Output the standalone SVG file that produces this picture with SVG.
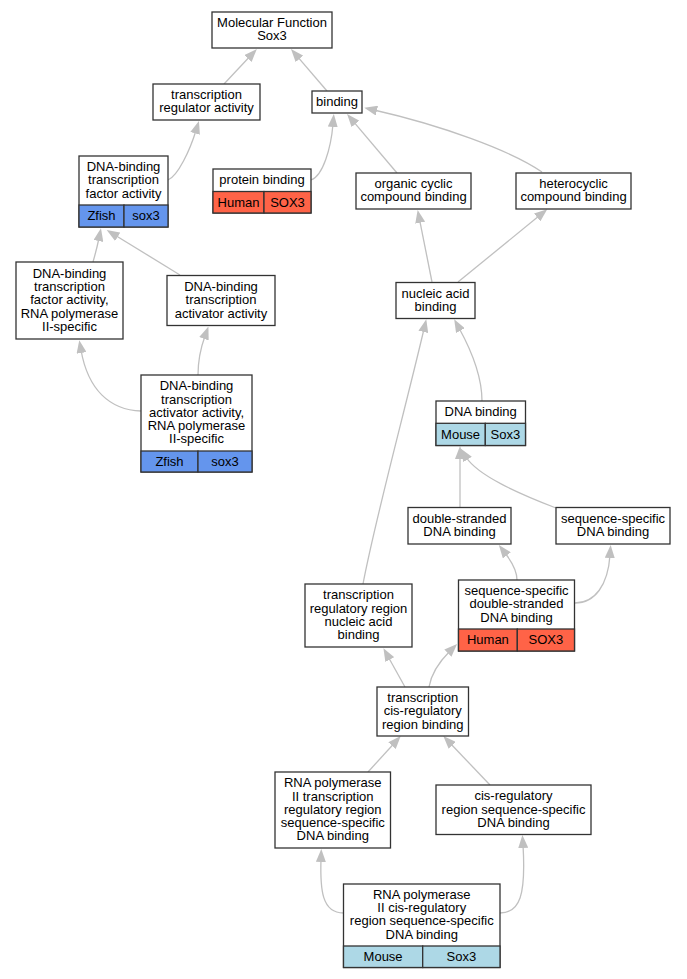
<svg xmlns="http://www.w3.org/2000/svg" width="687" height="979" viewBox="0 0 687 979">
<style>
.box{fill:#fff;stroke:#333;stroke-width:1.3}
.zf{fill:#6495ed;stroke:#333;stroke-width:1.3}
.hu{fill:#ff6347;stroke:#333;stroke-width:1.3}
.mo{fill:#add8e6;stroke:#333;stroke-width:1.3}
.e{fill:none;stroke:#c0c0c0;stroke-width:1.3;marker-end:url(#ah)}
text{font-family:"Liberation Sans",Arial,sans-serif;font-size:13px;fill:#000;text-anchor:middle}
</style>
<defs>
<marker id="ah" viewBox="0 0 13 10" refX="3" refY="5" markerWidth="13" markerHeight="10" markerUnits="userSpaceOnUse" orient="auto">
<path d="M0,0 L13,5 L0,10 z" fill="#c0c0c0"/>
</marker>
</defs>
<rect width="687" height="979" fill="#fff"/>
<g id="edges">
<path class="e" d="M224,84 L250,56.3"/>
<path class="e" d="M327,91 L297.5,56.6"/>
<path class="e" d="M168,180 C178,176 190,150 196,130.5"/>
<path class="e" d="M311,180 C323,176 331,148 333,124"/>
<path class="e" d="M397,173 L353.5,121.6"/>
<path class="e" d="M542,172 C510,150 440,125 374,110"/>
<path class="e" d="M93,262 C95,255 97,248 99,238"/>
<path class="e" d="M180,275 L115.2,235.2"/>
<path class="e" d="M141,411 C110,410 88,390 81,350"/>
<path class="e" d="M198,375 C198,360 201,347 205,336"/>
<path class="e" d="M432,282 L419.6,219.8"/>
<path class="e" d="M458,282 L539.5,215.6"/>
<path class="e" d="M482,401 C482,375 470,348 459,328"/>
<path class="e" d="M363,584 C375,520 405,410 424,329"/>
<path class="e" d="M460,507.5 L460,456"/>
<path class="e" d="M556,508 C520,494 478,476 466,457"/>
<path class="e" d="M517,580 C517,570 512,562 505,553"/>
<path class="e" d="M575,603 C595,603 608,585 610,555"/>
<path class="e" d="M405,687 L388.3,657"/>
<path class="e" d="M429,687 C431,675 438,663 450,651"/>
<path class="e" d="M368,772 L394,743.5"/>
<path class="e" d="M490,785 L450.2,743.2"/>
<path class="e" d="M343.5,913 C322,913 320,890 321,859"/>
<path class="e" d="M500,913 C520,913 526,895 523,845"/>
</g>
<g id="n1"><rect class="box" x="212" y="12" width="120" height="36"/><text x="272" y="27.15">Molecular Function</text><text x="272" y="40.45">Sox3</text></g>
<g id="n2"><rect class="box" x="153" y="84" width="107" height="36"/><text x="206.5" y="99.15">transcription</text><text x="206.5" y="112.45">regulator activity</text></g>
<g id="n3"><rect class="box" x="312" y="91" width="50" height="22"/><text x="337" y="105.8">binding</text></g>
<g id="n4"><rect class="box" x="79" y="156" width="89" height="71"/><rect class="zf" x="79" y="205" width="45" height="22"/><rect class="zf" x="124" y="205" width="44" height="22"/><text x="123.5" y="171">DNA-binding</text><text x="123.5" y="184.3">transcription</text><text x="123.5" y="197.6">factor activity</text><text x="101.5" y="220.3">Zfish</text><text x="146" y="220.3">sox3</text></g>
<g id="n5"><rect class="box" x="213" y="169" width="98" height="44"/><rect class="hu" x="213" y="191.5" width="51" height="21.5"/><rect class="hu" x="264" y="191.5" width="47" height="21.5"/><text x="262" y="184.3">protein binding</text><text x="238.5" y="206.5">Human</text><text x="287.5" y="206.5">SOX3</text></g>
<g id="n6"><rect class="box" x="356" y="173" width="115" height="36"/><text x="413.5" y="188.15">organic cyclic</text><text x="413.5" y="201.45">compound binding</text></g>
<g id="n7"><rect class="box" x="516" y="173" width="115" height="36"/><text x="573.5" y="188.15">heterocyclic</text><text x="573.5" y="201.45">compound binding</text></g>
<g id="n8"><rect class="box" x="16" y="262" width="107" height="77"/><text x="69.5" y="277.7">DNA-binding</text><text x="69.5" y="291">transcription</text><text x="69.5" y="304.3">factor activity,</text><text x="69.5" y="317.6">RNA polymerase</text><text x="69.5" y="330.9">II-specific</text></g>
<g id="n9"><rect class="box" x="167" y="275.5" width="108" height="50"/><text x="221" y="291">DNA-binding</text><text x="221" y="304.3">transcription</text><text x="221" y="317.6">activator activity</text></g>
<g id="n10"><rect class="box" x="396" y="282.5" width="79" height="36"/><text x="435.5" y="297.65">nucleic acid</text><text x="435.5" y="310.95">binding</text></g>
<g id="n11"><rect class="box" x="141" y="375" width="111" height="97"/><rect class="zf" x="141" y="451" width="57" height="21"/><rect class="zf" x="198" y="451" width="54" height="21"/><text x="196.5" y="390.2">DNA-binding</text><text x="196.5" y="403.5">transcription</text><text x="196.5" y="416.8">activator activity,</text><text x="196.5" y="430.1">RNA polymerase</text><text x="196.5" y="443.4">II-specific</text><text x="169.5" y="465.8">Zfish</text><text x="225" y="465.8">sox3</text></g>
<g id="n12"><rect class="box" x="436" y="401" width="89.5" height="44.5"/><rect class="mo" x="436" y="423.3" width="49.3" height="22.2"/><rect class="mo" x="485.3" y="423.3" width="40.2" height="22.2"/><text x="480.7" y="416">DNA binding</text><text x="460.6" y="438.6">Mouse</text><text x="505.4" y="438.6">Sox3</text></g>
<g id="n13"><rect class="box" x="408" y="507.5" width="103" height="36.5"/><text x="459.5" y="522.9">double-stranded</text><text x="459.5" y="536.2">DNA binding</text></g>
<g id="n14"><rect class="box" x="556" y="507.5" width="114" height="36.5"/><text x="613" y="522.9">sequence-specific</text><text x="613" y="536.2">DNA binding</text></g>
<g id="n15"><rect class="box" x="305" y="584" width="107" height="63"/><text x="358.5" y="599.35">transcription</text><text x="358.5" y="612.65">regulatory region</text><text x="358.5" y="625.95">nucleic acid</text><text x="358.5" y="639.25">binding</text></g>
<g id="n16"><rect class="box" x="458.5" y="580" width="116" height="71"/><rect class="hu" x="458.5" y="629" width="58.8" height="22"/><rect class="hu" x="517.3" y="629" width="57.2" height="22"/><text x="516.5" y="595">sequence-specific</text><text x="516.5" y="608.3">double-stranded</text><text x="516.5" y="621.6">DNA binding</text><text x="487.9" y="644.3">Human</text><text x="545.9" y="644.3">SOX3</text></g>
<g id="n17"><rect class="box" x="377" y="687" width="91.5" height="49"/><text x="422.75" y="702">transcription</text><text x="422.75" y="715.3">cis-regulatory</text><text x="422.75" y="728.6">region binding</text></g>
<g id="n18"><rect class="box" x="275" y="772" width="115.5" height="76"/><text x="332.75" y="787.2">RNA polymerase</text><text x="332.75" y="800.5">II transcription</text><text x="332.75" y="813.8">regulatory region</text><text x="332.75" y="827.1">sequence-specific</text><text x="332.75" y="840.4">DNA binding</text></g>
<g id="n19"><rect class="box" x="436" y="785" width="155" height="49.5"/><text x="513.5" y="800.25">cis-regulatory</text><text x="513.5" y="813.55">region sequence-specific</text><text x="513.5" y="826.85">DNA binding</text></g>
<g id="n20"><rect class="box" x="343.5" y="884" width="156.5" height="83.5"/><rect class="mo" x="343.5" y="946" width="79.2" height="21.5"/><rect class="mo" x="422.7" y="946" width="77.3" height="21.5"/><text x="421.75" y="898.85">RNA polymerase</text><text x="421.75" y="912.15">II cis-regulatory</text><text x="421.75" y="925.45">region sequence-specific</text><text x="421.75" y="938.75">DNA binding</text><text x="383.1" y="961">Mouse</text><text x="461.35" y="961">Sox3</text></g>
</svg>
